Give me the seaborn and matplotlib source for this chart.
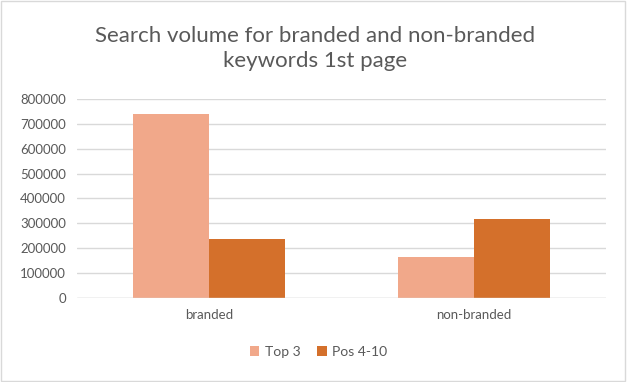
import matplotlib
matplotlib.use("Agg")
import matplotlib.pyplot as plt
import seaborn as sns
import pandas as pd

categories = ["branded", "non-branded"]
series = ["Top 3", "Pos 4-10"]
top3 = [740000, 166000]
pos4_10 = [237000, 317000]
yticks = [0, 100000, 200000, 300000, 400000, 500000, 600000, 700000, 800000]

df = pd.DataFrame({
    "category": categories * 2,
    "series": [series[0]] * 2 + [series[1]] * 2,
    "value": top3 + pos4_10,
})

sns.set_style("white")
plt.rcParams["font.family"] = ["Lato", "DejaVu Sans"]

fig = plt.figure(figsize=(6.27, 3.82), dpi=100)
ax = fig.add_axes([0.123, 0.22, 0.844, 0.521])

sns.barplot(
    data=df, x="category", y="value", hue="series",
    palette=["#F1A88A", "#D4702B"], width=0.575,
    saturation=1, ax=ax, legend=True, linewidth=0,
)

ax.set_ylim(0, 800000)
ax.set_xlim(-0.5, 1.5)
ax.set_yticks(yticks)
ax.set_yticklabels([str(v) for v in yticks])
ax.yaxis.grid(True, color="#D9D9D9", linewidth=1)
ax.set_axisbelow(True)
for s in ax.spines.values():
    s.set_visible(False)
ax.axhline(0, color="#D9D9D9", linewidth=1)
ax.tick_params(axis="both", length=0, labelsize=9.5, colors="#595959", pad=8)
ax.set_xlabel("")
ax.set_ylabel("")

fig.text(0.503, 0.873, "Search volume for branded and non-branded\nkeywords 1st page",
         ha="center", va="center", fontsize=16, color="#595959", linespacing=1.35)

ax.legend(loc="center", bbox_to_anchor=(0.508, 0.078), bbox_transform=fig.transFigure,
          ncol=2, frameon=False, fontsize=10, handlelength=0.7, handleheight=0.7,
          handletextpad=0.4, columnspacing=1.2, labelcolor="#595959")

fig.patches.append(plt.Rectangle((0.002, 0.003), 0.995, 0.994, transform=fig.transFigure,
                                 fill=False, edgecolor="#D9D9D9", linewidth=1))

fig.savefig("out.png", dpi=100)
